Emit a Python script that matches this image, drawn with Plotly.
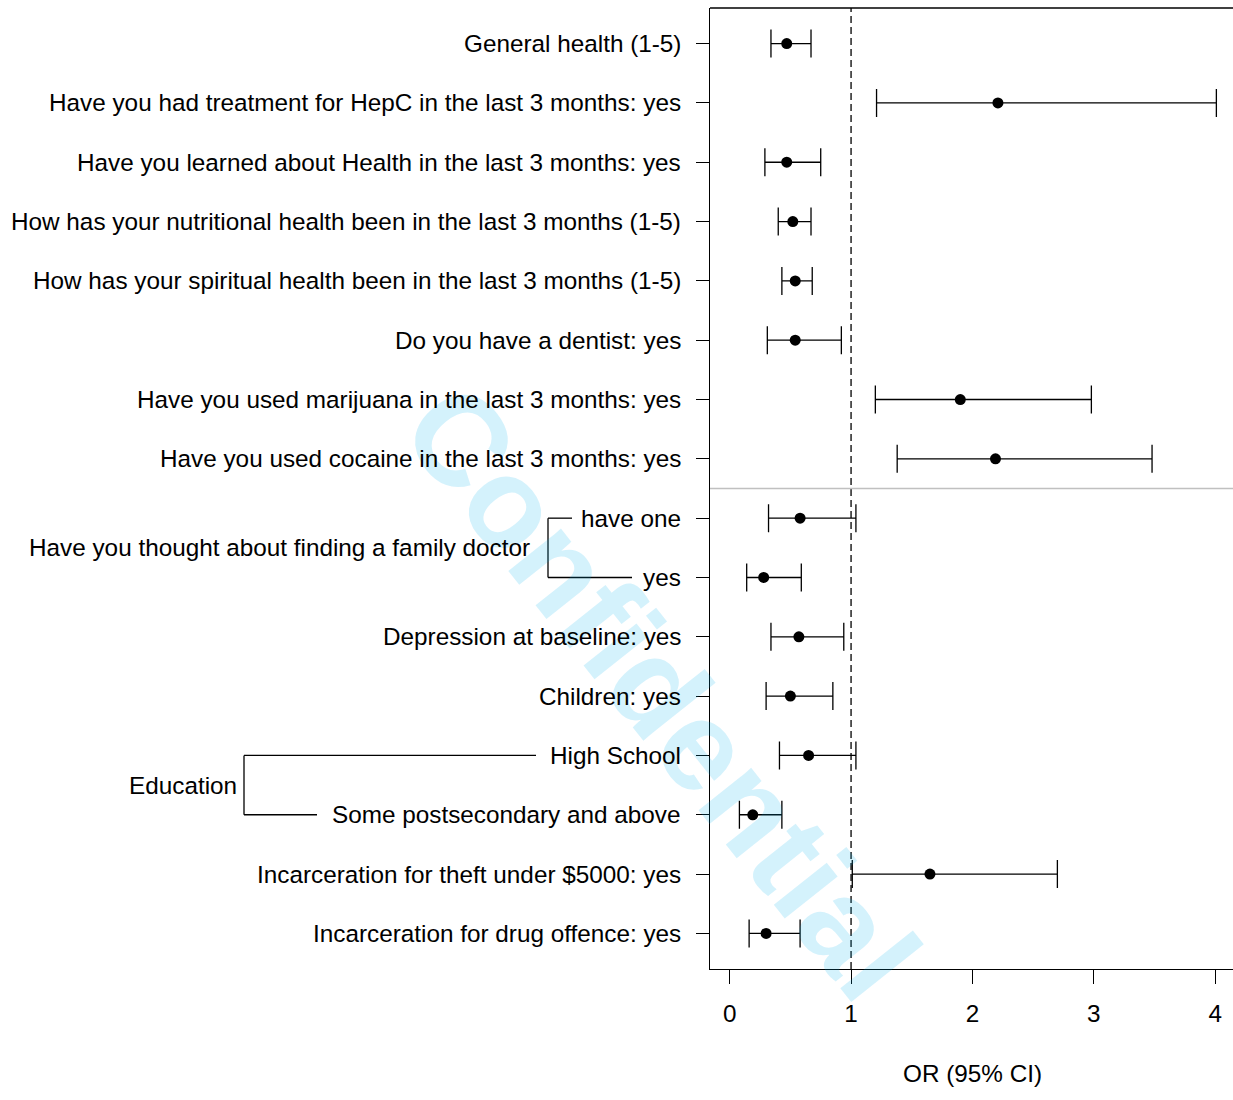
import plotly.graph_objects as go

# ---- data ----
labels = [
    "General health (1-5)",
    "Have you had treatment for HepC in the last 3 months: yes",
    "Have you learned about Health in the last 3 months: yes",
    "How has your nutritional health been in the last 3 months (1-5)",
    "How has your spiritual health been in the last 3 months (1-5)",
    "Do you have a dentist: yes",
    "Have you used marijuana in the last 3 months: yes",
    "Have you used cocaine in the last 3 months: yes",
    "have one",
    "yes",
    "Depression at baseline: yes",
    "Children: yes",
    "High School",
    "Some postsecondary and above",
    "Incarceration for theft under $5000: yes",
    "Incarceration for drug offence: yes",
]
or_vals = [0.47, 2.21, 0.47, 0.52, 0.54, 0.54, 1.90, 2.19, 0.58, 0.28, 0.57, 0.50, 0.65, 0.19, 1.65, 0.30]
ci_low = [0.34, 1.21, 0.29, 0.40, 0.43, 0.31, 1.20, 1.38, 0.32, 0.14, 0.34, 0.30, 0.41, 0.08, 1.01, 0.16]
ci_high = [0.67, 4.01, 0.75, 0.67, 0.68, 0.92, 2.98, 3.48, 1.04, 0.59, 0.94, 0.85, 1.04, 0.43, 2.70, 0.58]
rows = list(range(1, len(labels) + 1))

group_labels = ["Have you thought about finding a family doctor", "Education"]
group_rows = [(9, 10), (13, 14)]

x_ticks = [0, 1, 2, 3, 4]
x_title = "OR (95% CI)"
ref_line = 1
separator_row = 8.5

# ---- layout geometry (pixels) ----
W, H = 1233, 1100
ML, MT, MB = 710, 8, 131
PW = W - ML
PH = H - MT - MB


def px(xpix):
    return (xpix - ML) / PW


def py(ypix):
    return 1 - (ypix - MT) / PH


FONT = "Liberation Sans, Arial, Helvetica, sans-serif"
FS = 24.3

fig = go.Figure()
fig.add_trace(go.Scatter(
    x=or_vals, y=rows, mode="markers",
    marker=dict(color="black", size=11),
    error_x=dict(type="data", symmetric=False,
                 array=[h - o for h, o in zip(ci_high, or_vals)],
                 arrayminus=[o - l for o, l in zip(or_vals, ci_low)],
                 color="black", thickness=1.3, width=14),
    showlegend=False, hoverinfo="skip",
))

shapes = []
# dashed reference line
shapes.append(dict(type="line", xref="x", yref="paper", x0=ref_line, x1=ref_line, y0=0, y1=1,
                   line=dict(color="black", width=1.3, dash="7px,4px")))
# separator
shapes.append(dict(type="line", xref="paper", yref="y", x0=0, x1=1, y0=separator_row, y1=separator_row,
                   line=dict(color="#c0c0c0", width=1.3)))
# top border
shapes.append(dict(type="line", xref="paper", yref="paper", x0=0, x1=1, y0=1, y1=1,
                   line=dict(color="black", width=1.3)))

# brackets
bracket_geom = [(548, 572, 632), (244, 536, 317)]
for (r0, r1), (xv, xt, xb) in zip(group_rows, bracket_geom):
    for seg in [(xv, r0, xt, r0), (xv, r0, xv, r1), (xv, r1, xb, r1)]:
        shapes.append(dict(type="line", xref="paper", yref="y",
                           x0=px(seg[0]), y0=seg[1], x1=px(seg[2]), y1=seg[3],
                           line=dict(color="black", width=1.3)))

annotations = []
# watermark (semi-transparent so it reads as being behind the marks)
annotations.append(dict(text="<b>Confidential</b>", xref="paper", yref="paper",
                        x=px(662), y=py(692),
                        xanchor="center", yanchor="middle", showarrow=False, textangle=51.5,
                        font=dict(family=FONT, size=128, color="rgba(0,175,240,0.17)")))
for lab, r in zip(labels, rows):
    annotations.append(dict(text=lab, xref="paper", yref="y", x=px(683), y=r,
                            xanchor="right", yanchor="middle", showarrow=False,
                            font=dict(family=FONT, size=FS, color="black")))
group_right = [532, 239]
for lab, (r0, r1), xr in zip(group_labels, group_rows, group_right):
    annotations.append(dict(text=lab, xref="paper", yref="y", x=px(xr), y=(r0 + r1) / 2,
                            xanchor="right", yanchor="middle", showarrow=False,
                            font=dict(family=FONT, size=FS, color="black")))
annotations.append(dict(text=x_title, xref="paper", yref="paper", x=px(972), y=py(1073),
                        xanchor="center", yanchor="middle", showarrow=False,
                        font=dict(family=FONT, size=FS, color="black")))

fig.update_layout(
    width=W, height=H,
    margin=dict(l=ML, r=0, t=MT, b=MB, pad=0),
    plot_bgcolor="white", paper_bgcolor="white",
    shapes=shapes, annotations=annotations,
    xaxis=dict(range=[-0.1623, 4.147], tickvals=x_ticks, ticks="outside", ticklen=14,
               tickwidth=1.3, tickcolor="black", showline=True, linecolor="black", linewidth=1.3,
               showgrid=False, zeroline=False, ticklabelstandoff=9,
               tickfont=dict(family=FONT, size=FS, color="black")),
    yaxis=dict(range=[16.6, 0.4], tickvals=rows, ticks="outside", ticklen=13,
               tickwidth=1.3, tickcolor="black", showline=True, linecolor="black", linewidth=1.3,
               showgrid=False, zeroline=False, showticklabels=False),
)

fig.write_html("out.html", config={"displayModeBar": False},
               post_script="document.body.style.margin='0';document.body.style.overflow='hidden';")
